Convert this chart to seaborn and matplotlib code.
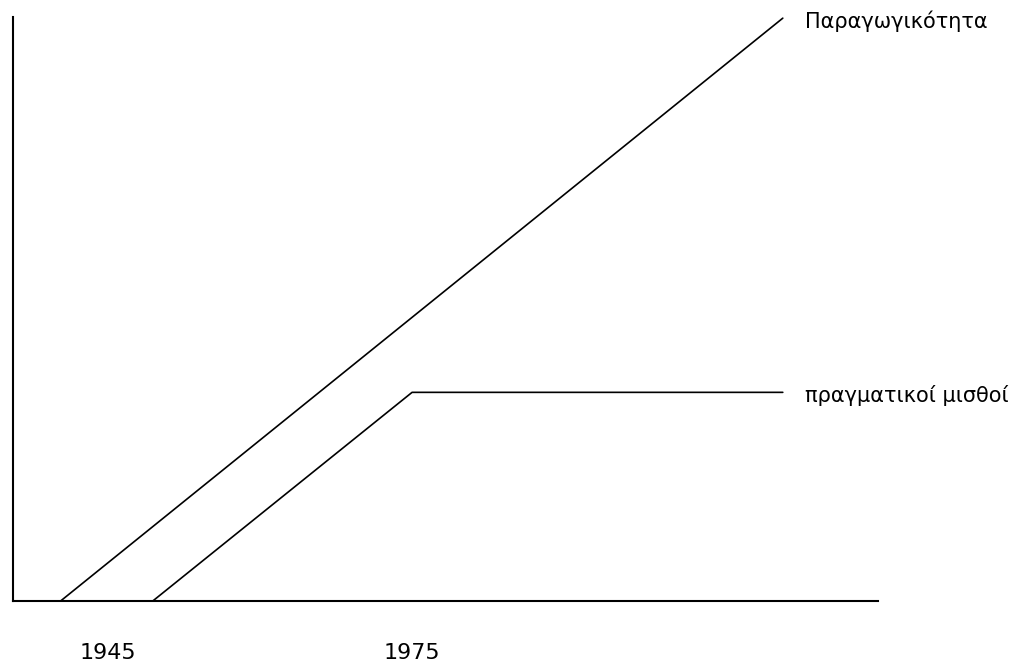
import pandas as pd
import seaborn as sns
import matplotlib.pyplot as plt

# data (x in years, y in arbitrary units)
prod_years = [1940.3, 2011.6]
prod_values = [0, 100]
wage_years = [1949.4, 1975, 2011.6]
wage_values = [0, 35.8, 35.8]
tick_years = [1945, 1975]
series_names = ['Παραγωγικότητα', 'πραγματικοί μισθοί']

df = pd.concat([
    pd.DataFrame({'year': prod_years, 'value': prod_values, 'series': series_names[0]}),
    pd.DataFrame({'year': wage_years, 'value': wage_values, 'series': series_names[1]}),
])

sns.set_style('white')
plt.rcParams['font.family'] = ['DejaVu Sans']
plt.rcParams['text.color'] = 'black'
plt.rcParams['xtick.color'] = 'black'

fig = plt.figure(figsize=(10.23, 6.66), dpi=100)
ax = fig.add_axes([13 / 1023, 65 / 666, 865 / 1023, 584 / 666])

sns.lineplot(data=df, x='year', y='value', units='series', estimator=None,
             color='black', linewidth=1.2, ax=ax, legend=False, sort=False)

ax.set_xlim(1935.6, 2021.0)
ax.set_ylim(0, 100.2)

for name, xs, ys in [(series_names[0], prod_years, prod_values),
                     (series_names[1], wage_years, wage_values)]:
    ax.annotate(name, (xs[-1], ys[-1]), xytext=(16, -2), textcoords='offset points',
                ha='left', va='center', fontsize=15, color='black', clip_on=False)

ax.set_xticks(tick_years)
ax.set_xticklabels([str(t) for t in tick_years], fontsize=16)
ax.tick_params(axis='x', length=0, pad=30, labelcolor='black')
ax.set_yticks([])
ax.set_xlabel('')
ax.set_ylabel('')

sns.despine(ax=ax)
for s in ['left', 'bottom']:
    ax.spines[s].set_color('black')
    ax.spines[s].set_linewidth(1.5)

fig.savefig('out.png', dpi=100)
